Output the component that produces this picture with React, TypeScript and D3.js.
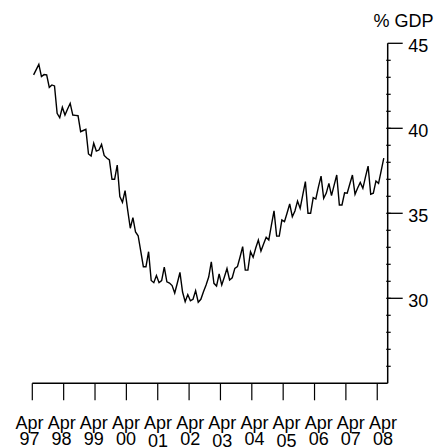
import React from "react";
import * as d3 from "d3";

// Monthly values, % of GDP, April 1997 .. June 2008
const values: number[] = [
  43.14, 43.45, 43.76, 43.04, 43.16, 43.14, 42.41, 42.55, 42.49, 40.88,
  40.62, 41.24, 40.78, 41.14, 41.47, 40.78, 40.76, 40.74, 39.8, 39.87,
  39.94, 38.49, 38.37, 39.12, 38.66, 38.72, 39.05, 38.4, 38.25, 38.14,
  37.0, 37.0, 37.84, 35.98, 35.65, 36.33, 35.19, 34.12, 34.75, 33.9,
  33.68, 32.78, 31.86, 31.86, 32.74, 31.05, 30.92, 31.34, 30.92, 31.04,
  31.84, 30.97, 30.9, 30.75, 30.31, 30.9, 31.52, 30.37, 29.8, 30.22,
  29.86, 29.94, 30.45, 29.77, 29.94, 30.39, 30.78, 31.25, 32.15, 30.88,
  30.72, 31.43, 30.78, 31.25, 31.75, 31.08, 31.21, 31.76, 31.86, 32.43,
  33.04, 31.66, 31.66, 32.74, 32.41, 32.96, 33.43, 32.78, 33.19, 33.59,
  33.43, 34.31, 35.14, 33.66, 33.66, 34.61, 34.51, 35.02, 35.55, 34.8,
  35.14, 35.72, 35.29, 36.08, 36.86, 35.0, 35.0, 35.92, 35.84, 36.55,
  37.19, 35.88, 36.19, 36.76, 36.04, 36.66, 37.25, 35.49, 35.49, 36.21,
  36.18, 36.72, 37.25, 36.12, 36.49, 36.82, 36.47, 37.14, 37.78, 36.12,
  36.18, 36.9, 36.76, 37.49, 38.24,
];

const tickMonths: number[] = [0, 12, 24, 36, 48, 60, 72, 84, 96, 108, 120, 132];
const tickYears: string[] = ["97", "98", "99", "00", "01", "02", "03", "04", "05", "06", "07", "08"];
const monthLabel = "Apr";
const yMajor: number[] = [30, 35, 40, 45];
const yMinor: number[] = d3.range(26, 45);
const unitLabel = "% GDP";

const W = 443;
const H = 447;
const FONT = "'Liberation Sans', Arial, Helvetica, sans-serif";

export default function App() {
  const x = d3.scaleLinear().domain([0, 136]).range([32.3, 387.7]);
  const y = d3.scaleLinear().domain([25, 45]).range([383.3, 43.3]);
  const labelX = d3.scalePoint<string>().domain(tickYears).range([29.5, 383]);

  const line = d3
    .line<number>()
    .x((_, i) => x(i + 0.5))
    .y((d) => y(d));

  const axisX = x.range()[1];
  const baseY = y(25);

  return (
    <svg
      width={W}
      height={H}
      style={{ position: "absolute", left: 0, top: 0, background: "#fff" }}
      fontFamily={FONT}
    >
      <rect width={W} height={H} fill="#fff" />
      <path d={line(values) || ""} fill="none" stroke="#000" strokeWidth={1.4} strokeLinejoin="miter" />

      {/* right value axis */}
      <line x1={axisX} x2={axisX} y1={y(45)} y2={baseY} stroke="#000" strokeWidth={1.5} />
      {yMinor.map((v) => (
        <line key={"mi" + v} x1={axisX - 1.5} x2={axisX + 3} y1={y(v)} y2={y(v)} stroke="#000" strokeWidth={1.2} />
      ))}
      {yMajor.map((v) => (
        <g key={"ma" + v}>
          <line x1={axisX} x2={axisX + 15} y1={y(v)} y2={y(v)} stroke="#000" strokeWidth={1.3} />
          <text x={axisX + 20.5} y={y(v) + 8.3} fontSize={18} fill="#000">
            {v}
          </text>
        </g>
      ))}
      <text x={433.5} y={27.3} fontSize={18} textAnchor="end" fill="#000">
        {unitLabel}
      </text>

      {/* bottom date axis */}
      <line x1={x(0)} x2={axisX} y1={baseY} y2={baseY} stroke="#000" strokeWidth={1.6} />
      {tickMonths.map((m) => (
        <line key={"t" + m} x1={x(m)} x2={x(m)} y1={baseY} y2={baseY + 17} stroke="#000" strokeWidth={1.2} />
      ))}
      {tickYears.map((yr, k) => {
        const cx = labelX(yr) as number;
        const drop = k === 4 || k === 6 || k === 8 ? 1.3 : 0;
        return (
          <g key={"l" + yr}>
            <text x={cx} y={429} fontSize={18} textAnchor="middle" fill="#000">
              {monthLabel}
            </text>
            <text x={cx} y={445.3 + drop} fontSize={18} textAnchor="middle" fill="#000">
              {yr}
            </text>
          </g>
        );
      })}
    </svg>
  );
}
